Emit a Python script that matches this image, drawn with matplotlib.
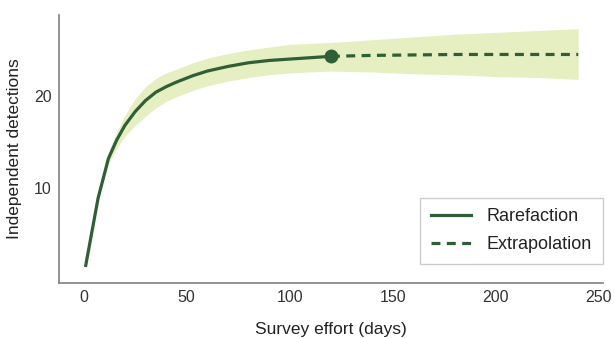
import numpy as np
import matplotlib.pyplot as plt

plt.rcParams["font.family"] = ["Liberation Sans", "DejaVu Sans"]

# rarefaction part (observed effort)
rare_days = [1, 7, 12, 16, 20, 25, 30, 35, 40, 45, 53, 60, 70, 80, 90, 100, 110, 120]
rare_det = [1.6, 8.9, 13.2, 15.2, 16.8, 18.3, 19.5, 20.4, 21.0, 21.5, 22.2, 22.7, 23.2, 23.6, 23.85, 24.0, 24.15, 24.3]
rare_lo = [1.6, 8.7, 12.6, 14.3, 15.6, 16.8, 17.8, 18.7, 19.4, 19.9, 20.6, 21.1, 21.6, 22.0, 22.3, 22.5, 22.6, 22.7]
rare_hi = [1.6, 9.1, 13.8, 16.1, 17.9, 19.7, 21.0, 21.9, 22.5, 22.9, 23.6, 24.1, 24.6, 25.0, 25.3, 25.6, 25.7, 25.8]

# extrapolation part
extra_days = [120, 140, 160, 180, 200, 220, 240]
extra_det = [24.3, 24.4, 24.45, 24.5, 24.5, 24.5, 24.5]
extra_lo = [22.7, 22.6, 22.4, 22.3, 22.1, 22.0, 21.8]
extra_hi = [25.8, 26.1, 26.4, 26.7, 26.9, 27.1, 27.3]

line_col = "#2f5e37"
band_col = "#e6efc2"

fig, ax = plt.subplots(figsize=(6.14, 3.38), dpi=100)
fig.subplots_adjust(left=0.096, right=0.982, bottom=0.163, top=0.956)

ax.fill_between(rare_days, rare_lo, rare_hi, color=band_col, linewidth=0)
ax.fill_between(extra_days, extra_lo, extra_hi, color=band_col, linewidth=0)
ax.plot(rare_days, rare_det, color=line_col, lw=2.3, label="Rarefaction")
ax.plot(extra_days, extra_det, color=line_col, lw=2.3, ls=(0, (2.8, 2.0)), label="Extrapolation")
ax.plot(rare_days[-1], rare_det[-1], "o", color=line_col, ms=9)

ax.set_xlim(-12, 252)
ax.set_ylim(-0.3, 28.8)
ax.set_xticks([0, 50, 100, 150, 200, 250])
ax.set_yticks([10, 20])
ax.tick_params(length=0, labelsize=11.5, colors="#333333", pad=5)
for s in ["top", "right"]:
    ax.spines[s].set_visible(False)
for s in ["left", "bottom"]:
    ax.spines[s].set_color("#808080")
    ax.spines[s].set_linewidth(1.2)

ax.set_xlabel("Survey effort (days)", fontsize=12.5, color="#222222", labelpad=12)
ax.set_ylabel("Independent detections", fontsize=12.5, color="#222222", labelpad=9)

leg = ax.legend(loc="lower right", bbox_to_anchor=(1.0, 0.07), borderaxespad=0,
                fontsize=13, frameon=True, fancybox=False, edgecolor="#c0c0c0",
                handlelength=2.2, handletextpad=0.9, labelspacing=0.6,
                borderpad=0.6)
leg.get_frame().set_linewidth(1.0)
for t in leg.get_texts():
    t.set_color("#222222")

plt.savefig("out.png", dpi=100)
